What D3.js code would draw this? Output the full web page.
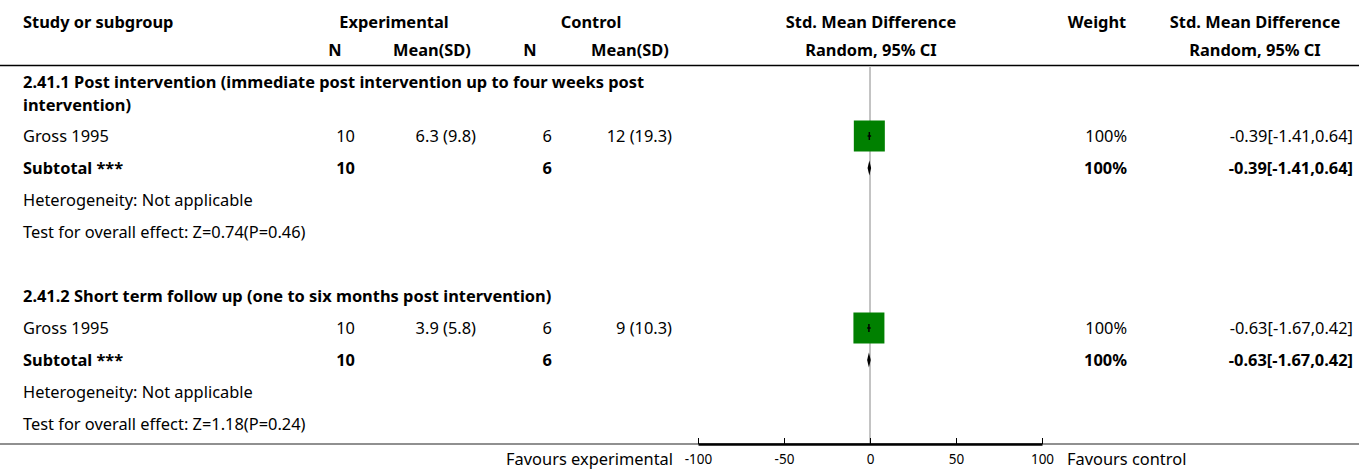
<!DOCTYPE html>
<html><head><meta charset="utf-8">
<script src="https://cdn.jsdelivr.net/npm/d3@7"></script>
<style>
body{margin:0;background:#fff;}
svg text{font-family:"Noto Sans",sans-serif;font-size:16.4px;fill:#000;}
.b{font-weight:700;}
</style></head><body>
<svg id="c" width="1359" height="470"></svg>
<script>
// ---- data ----
const rowTypes   = ["heading","study","subtotal","note","note","blank","heading","study","subtotal","note","note"];
const rowLabels  = ["2.41.1 Post intervention (immediate post intervention up to four weeks post|intervention)",
  "Gross 1995","Subtotal ***","Heterogeneity: Not applicable","Test for overall effect: Z=0.74(P=0.46)","",
  "2.41.2 Short term follow up (one to six months post intervention)",
  "Gross 1995","Subtotal ***","Heterogeneity: Not applicable","Test for overall effect: Z=1.18(P=0.24)"];
const expN       = [null,10,10,null,null,null,null,10,10,null,null];
const expMeanSD  = [null,"6.3 (9.8)",null,null,null,null,null,"3.9 (5.8)",null,null,null];
const ctrlN      = [null,6,6,null,null,null,null,6,6,null,null];
const ctrlMeanSD = [null,"12 (19.3)",null,null,null,null,null,"9 (10.3)",null,null,null];
const weights    = [null,100,100,null,null,null,null,100,100,null,null];
const smd        = [null,-0.39,-0.39,null,null,null,null,-0.63,-0.63,null,null];
const ciLow      = [null,-1.41,-1.41,null,null,null,null,-1.67,-1.67,null,null];
const ciHigh     = [null,0.64,0.64,null,null,null,null,0.42,0.42,null,null];
const axisTicks  = [-100,-50,0,50,100];

const svg = d3.select("#c");
const x = d3.scaleLinear().domain([-100,100]).range([698,1042]);
const y = d3.scaleLinear().domain([0,10]).range([104,424]);
const sz = d3.scaleSqrt().domain([0,100]).range([0,31]);
const fmt = v => d3.format(".2f")(v).replace("\u2212","-");
const ci = i => `${fmt(smd[i])}[${fmt(ciLow[i])},${fmt(ciHigh[i])}]`;

// header
const hdr = [
  {t:"Study or subgroup",x:23,y:22,a:"start"},
  {t:"Experimental",x:394,y:22,a:"middle"},
  {t:"Control",x:591,y:22,a:"middle"},
  {t:"Std. Mean Difference",x:871,y:22,a:"middle"},
  {t:"Weight",x:1097,y:22,a:"middle"},
  {t:"Std. Mean Difference",x:1255,y:22,a:"middle"},
  {t:"N",x:335,y:50,a:"middle"},
  {t:"Mean(SD)",x:432,y:50,a:"middle"},
  {t:"N",x:530,y:50,a:"middle"},
  {t:"Mean(SD)",x:630,y:50,a:"middle"},
  {t:"Random, 95% CI",x:871,y:50,a:"middle"},
  {t:"Random, 95% CI",x:1255,y:50,a:"middle"}
];
svg.selectAll("text.h").data(hdr).join("text").attr("class","h b")
  .attr("x",d=>d.x).attr("y",d=>d.y).attr("dy","0.35em").attr("text-anchor",d=>d.a).text(d=>d.t);
svg.append("line").attr("x1",0).attr("x2",1359).attr("y1",65.5).attr("y2",65.5).attr("stroke","#000").attr("stroke-width",1.5);

// zero line
svg.append("line").attr("x1",x(0)).attr("x2",x(0)).attr("y1",67).attr("y2",444).attr("stroke","#888").attr("stroke-width",1);

// rows
rowTypes.forEach((t,i)=>{
  const yy = y(i);
  const bold = (t==="heading"||t==="subtotal");
  if(t==="heading"){
    const parts = rowLabels[i].split("|");
    const off = parts.length>1 ? -21.5 : 0;
    parts.forEach((p,k)=>svg.append("text").attr("class","b").attr("x",23).attr("y",yy+off+k*22.5).attr("dy","0.35em").text(p));
    return;
  }
  if(t==="blank") return;
  svg.append("text").attr("class",bold?"b":null).attr("x",23).attr("y",yy).attr("dy","0.35em").text(rowLabels[i]);
  const cells = [[expN[i],355],[expMeanSD[i],476],[ctrlN[i],552],[ctrlMeanSD[i],672],
                 [weights[i]!=null?weights[i]+"%":null,1127],[smd[i]!=null?ci(i):null,1353]];
  cells.forEach(([v,xx])=>{ if(v==null) return;
    svg.append("text").attr("class",bold?"b":null).attr("x",xx).attr("y",yy).attr("dy","0.35em").attr("text-anchor","end").text(v);
  });
  if(t==="study"){
    const s = sz(weights[i]);
    svg.append("rect").attr("x",x(smd[i])-s/2).attr("y",yy-s/2).attr("width",s).attr("height",s).attr("fill","#008000");
    svg.append("line").attr("x1",x(ciLow[i])).attr("x2",x(ciHigh[i])).attr("y1",yy).attr("y2",yy).attr("stroke","#000").attr("stroke-width",1.5);
    svg.append("line").attr("x1",x(smd[i])).attr("x2",x(smd[i])).attr("y1",yy-4).attr("y2",yy+4).attr("stroke","#000").attr("stroke-width",1.5);
  }
  if(t==="subtotal"){
    const pts = [[x(ciLow[i]),yy],[x(smd[i]),yy-7.5],[x(ciHigh[i]),yy],[x(smd[i]),yy+7.5]];
    svg.append("path").attr("d","M"+pts.join("L")+"Z").attr("fill","#000");
  }
});

// axis
svg.append("line").attr("x1",0).attr("x2",1359).attr("y1",444).attr("y2",444).attr("stroke","#222").attr("stroke-width",1.2);
const ax = svg.append("g").attr("transform","translate(0,444)")
  .call(d3.axisBottom(x).tickValues(axisTicks).tickSizeInner(-6).tickSizeOuter(0).tickPadding(10).tickFormat(d=>String(d)));
ax.select(".domain").attr("stroke","#000").attr("stroke-width",2.5);
ax.selectAll(".tick line").attr("stroke","#000");
ax.selectAll(".tick text").style("font-size","13.5px").style("font-family","'Noto Sans',sans-serif").attr("fill","#000");
svg.append("text").attr("x",673).attr("y",459).attr("dy","0.35em").attr("text-anchor","end").text("Favours experimental");
svg.append("text").attr("x",1067).attr("y",459).attr("dy","0.35em").text("Favours control");
</script></body></html>
